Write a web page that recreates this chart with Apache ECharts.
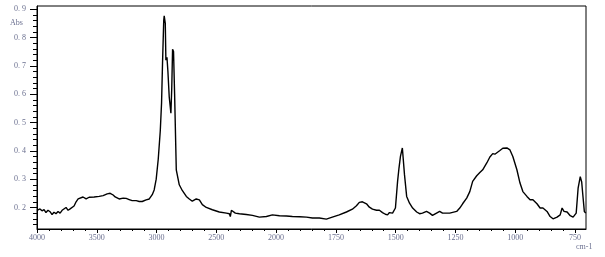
<!DOCTYPE html>
<html>
<head>
<meta charset="utf-8">
<script src="https://cdn.jsdelivr.net/npm/echarts@6/dist/echarts.min.js"></script>
<style>html,body{margin:0;padding:0;background:#fff}#c{width:605px;height:257px}</style>
</head>
<body>
<div id="c"></div>
<script>
// Wavenumber (cm-1) and absorbance values
const wavenumbers = [4000,3992,3975,3958,3941,3925,3908,3891,3874,3858,3841,3824,3807,3790,3774,3757,3740,3723,3707,3690,3673,3656,3640,3615,3589,3564,3522,3480,3447,3413,3388,3363,3346,3313,3279,3254,3229,3204,3170,3145,3120,3087,3061,3036,3020,3003,2986,2969,2958,2950,2940,2936,2927,2922,2913,2905,2894,2880,2873,2866,2858,2849,2835,2810,2785,2751,2726,2701,2668,2642,2617,2584,2533,2475,2416,2391,2383,2374,2366,2341,2307,2249,2198,2140,2081,2031,1986,1957,1932,1902,1873,1848,1819,1790,1765,1736,1706,1681,1664,1652,1639,1622,1610,1597,1580,1568,1555,1543,1534,1526,1513,1501,1492,1486,1480,1472,1467,1463,1454,1442,1429,1412,1400,1388,1371,1358,1346,1329,1316,1304,1274,1245,1232,1220,1203,1190,1178,1161,1148,1136,1119,1106,1094,1085,1077,1064,1052,1035,1022,1010,993,980,968,951,938,926,909,896,884,867,854,842,825,812,804,796,783,770,758,745,737,728,722,718,711,705];
const absorbance = [0.19,0.185,0.195,0.188,0.192,0.182,0.19,0.185,0.175,0.183,0.178,0.186,0.18,0.19,0.184,0.2,0.19,0.195,0.2,0.205,0.22,0.23,0.225,0.237,0.23,0.236,0.237,0.239,0.242,0.248,0.25,0.244,0.237,0.23,0.233,0.232,0.228,0.224,0.224,0.221,0.221,0.227,0.23,0.245,0.262,0.30,0.37,0.47,0.57,0.71,0.86,0.876,0.85,0.72,0.73,0.68,0.59,0.533,0.62,0.758,0.75,0.60,0.333,0.28,0.26,0.239,0.23,0.222,0.23,0.227,0.21,0.20,0.192,0.184,0.18,0.178,0.168,0.19,0.185,0.18,0.178,0.175,0.172,0.166,0.168,0.174,0.171,0.17,0.168,0.167,0.166,0.163,0.163,0.159,0.166,0.174,0.184,0.194,0.206,0.218,0.22,0.213,0.201,0.194,0.19,0.19,0.182,0.176,0.174,0.182,0.18,0.198,0.292,0.34,0.38,0.41,0.403,0.315,0.239,0.215,0.198,0.184,0.178,0.18,0.186,0.18,0.172,0.18,0.186,0.18,0.18,0.186,0.198,0.213,0.233,0.256,0.292,0.312,0.323,0.333,0.357,0.378,0.39,0.388,0.382,0.401,0.409,0.41,0.403,0.38,0.333,0.286,0.256,0.239,0.227,0.227,0.213,0.198,0.198,0.186,0.168,0.16,0.166,0.174,0.198,0.186,0.184,0.171,0.166,0.18,0.268,0.309,0.29,0.251,0.186,0.18];
const xTickLabels = [4000,3500,3000,2500,2000,1750,1500,1250,1000,750];
const yTickLabels = [0.2,0.3,0.4,0.5,0.6,0.7,0.8,0.9];
const xRange = [4000, 704];
const yRange = [0.124, 0.911];

// Piecewise (2x expanded below 2000 cm-1) wavenumber axis
function toT(w){ return w >= 2000 ? (4000 - w) / 500 : 4 + (2000 - w) / 250; }
function fromT(t){ return t <= 4 ? 4000 - 500 * t : 2000 - 250 * (t - 4); }

const seriesData = wavenumbers.map((w, i) => [toT(w), absorbance[i]]);
const xMajor = xTickLabels.map(toT);
const xMinor = [];
for (let i = 0; i < xMajor.length - 1; i++) for (let k = 1; k < 5; k++) xMinor.push(xMajor[i] + k * 0.2);
const yMinor = [];
for (let v = 0.14; v < 0.911; v += 0.02) { const r = Math.round(v*100)/100; if (Math.round(r*100) % 10 !== 0) yMinor.push(r); }

const labelStyle = {color:'#6b7090', fontSize:8, fontFamily:'Liberation Serif'};
const chart = echarts.init(document.getElementById('c'), null, {renderer:'canvas'});
chart.setOption({
  animation:false,
  grid:{left:37, right:19, top:6, bottom:28, show:true, borderColor:'#000', borderWidth:1, backgroundColor:'transparent'},
  xAxis:[{
    type:'value', min:toT(xRange[0]), max:toT(xRange[1]),
    axisLine:{show:true, lineStyle:{color:'#000', width:1}},
    axisTick:{show:true, length:4, lineStyle:{color:'#000'}, customValues:xMajor},
    axisLabel:Object.assign({customValues:xMajor, margin:5, formatter:v=>String(Math.round(fromT(v)))}, labelStyle),
    splitLine:{show:false}
  },{
    type:'value', min:toT(xRange[0]), max:toT(xRange[1]), position:'bottom', offset:0,
    axisLine:{show:false},
    axisTick:{show:true, length:2, lineStyle:{color:'#000'}, customValues:xMinor},
    axisLabel:{show:false}, splitLine:{show:false}
  }],
  yAxis:[{
    type:'value', min:yRange[0], max:yRange[1],
    axisLine:{show:true, lineStyle:{color:'#000', width:1}},
    axisTick:{show:true, length:7, lineStyle:{color:'#000'}, customValues:yTickLabels},
    axisLabel:Object.assign({customValues:yTickLabels, margin:11, formatter:v=>v.toFixed(1).replace('.', '. ')}, labelStyle),
    splitLine:{show:false}
  },{
    type:'value', min:yRange[0], max:yRange[1], position:'left', offset:0,
    axisLine:{show:false},
    axisTick:{show:true, length:4, lineStyle:{color:'#000'}, customValues:yMinor},
    axisLabel:{show:false}, splitLine:{show:false}
  }],
  graphic:[
    {type:'text', left:10, top:19, style:{text:'Abs', fill:'#6b7090', font:'8px "Liberation Serif"'}},
    {type:'text', left:576, top:243, style:{text:'cm-1', fill:'#6b7090', font:'8px "Liberation Serif"'}}
  ],
  series:[{
    type:'line', data:seriesData, showSymbol:false, symbol:'none',
    lineStyle:{color:'#000', width:1.4}, xAxisIndex:0, yAxisIndex:0
  }]
});
</script>
</body>
</html>
